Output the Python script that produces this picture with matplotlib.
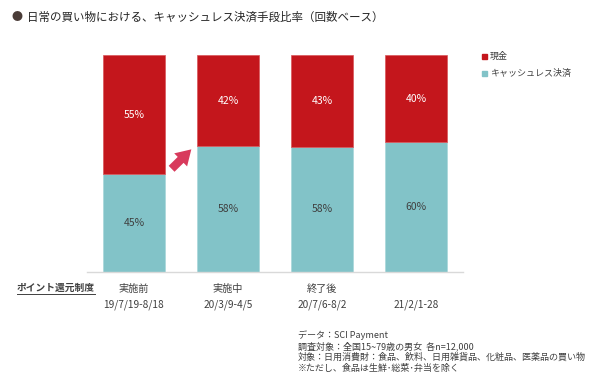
import matplotlib
matplotlib.use("Agg")
import matplotlib.pyplot as plt
import numpy as np
from matplotlib.lines import Line2D

plt.rcParams['font.family'] = ['Noto Sans CJK JP', 'DejaVu Sans']

periods = ["実施前", "実施中", "終了後", ""]
dates = ["19/7/19-8/18", "20/3/9-4/5", "20/7/6-8/2", "21/2/1-28"]
cash = [55, 42, 43, 40]
cashless = [45, 58, 58, 60]
series_names = ["現金", "キャッシュレス決済"]

RED = "#C4161C"
TEAL = "#82C3C8"
TXT = "#3F3F3F"

fig = plt.figure(figsize=(6.0, 3.81), dpi=100)
ax = fig.add_axes([87/600, 1-271.5/381, (463-87)/600, (271.5-55.3)/381])

x = np.arange(len(cash))
tot = np.array(cash) + np.array(cashless)
cl_share = np.array(cashless) / tot * 100
cash_share = np.array(cash) / tot * 100
w = 0.665
ax.bar(x, cl_share, w, color=TEAL, edgecolor="#A9D6D9", linewidth=0.5)
ax.bar(x, cash_share, w, bottom=cl_share, color=RED, edgecolor="#D9555A", linewidth=0.5)

for i in range(len(x)):
    ax.text(x[i], cl_share[i]/2, f"{cashless[i]}%", ha="center", va="center",
            fontsize=7.5, color="#404040")
    ax.text(x[i], cl_share[i] + cash_share[i]/2, f"{cash[i]}%", ha="center", va="center",
            fontsize=7.5, color="white")

ax.set_xlim(-0.5, 3.5)
ax.set_ylim(0, 100)
for s in ["top", "right", "left"]:
    ax.spines[s].set_visible(False)
ax.spines["bottom"].set_color("#D9D9D9")
ax.spines["bottom"].set_linewidth(1.0)
ax.set_yticks([])
ax.set_xticks(x)
ax.set_xticklabels([f"{p}\n{d}" for p, d in zip(periods, dates)], fontsize=7.3,
                   color=TXT, linespacing=1.7)
ax.tick_params(axis="x", length=0, pad=9)

# arrow between first and second bars
ax.annotate("", xy=(0.61, 56.5), xytext=(0.40, 47.5),
            arrowprops=dict(arrowstyle="simple,head_length=0.9,head_width=1.1,tail_width=0.5",
                            color="#D83A5C", lw=0, shrinkA=0, shrinkB=0,
                            mutation_scale=12))

# title
fig.text(12/600, 1-17/381, "●", fontsize=8, color="#4A3C38", va="center", ha="left")
fig.text(27/600, 1-17/381, "日常の買い物における、キャッシュレス決済手段比率（回数ベース）",
         fontsize=8.3, color="#262626", va="center", ha="left")

# legend
fig.patches.append(plt.Rectangle((482/600, 1-59/381), 5/600, 5/381, color=RED,
                                 transform=fig.transFigure, figure=fig))
fig.patches.append(plt.Rectangle((482/600, 1-76/381), 5/600, 5/381, color=TEAL,
                                 transform=fig.transFigure, figure=fig))
fig.text(490/600, 1-56.5/381, series_names[0], fontsize=6.5, color=TXT, va="center")
fig.text(490/600, 1-73.5/381, series_names[1], fontsize=6.5, color=TXT, va="center")

# row label
t = fig.text(17/600, 1-288/381, "ポイント還元制度", fontsize=7, color="#404040",
             va="center", ha="left", fontweight="bold")
fig.canvas.draw()
bb = t.get_window_extent()
inv = fig.transFigure.inverted()
(x0, y0), (x1, y1) = inv.transform([[bb.x0, bb.y0], [bb.x1, bb.y1]])
fig.lines.append(Line2D([x0, x1], [y0 - 0.002, y0 - 0.002], transform=fig.transFigure,
                        color="#404040", linewidth=0.7))

# footnote
notes = ["データ：SCI Payment",
         "調査対象：全国15~79歳の男女  各n=12,000",
         "対象：日用消費財：食品、飲料、日用雑貨品、化粧品、医薬品の買い物",
         "※ただし、食品は生鮮･総菜･弁当を除く"]
for k, n in enumerate(notes):
    fig.text(298/600, 1-(335 + 11*k)/381, n, fontsize=6.5, color=TXT, va="center", ha="left")

fig.savefig("out.png", dpi=100)
